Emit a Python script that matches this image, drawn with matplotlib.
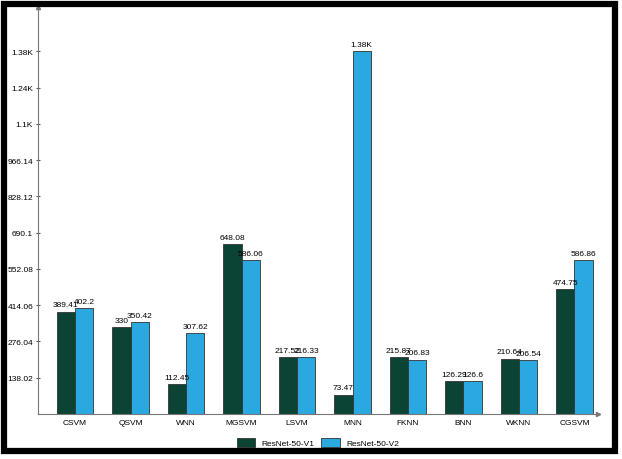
import numpy as np
import matplotlib.pyplot as plt
from matplotlib.patches import Rectangle

models = ["CSVM", "QSVM", "WNN", "MGSVM", "LSVM", "MNN", "FKNN", "BNN", "WKNN", "CGSVM"]
v1 = [389.41, 330, 112.45, 648.08, 217.52, 73.47, 215.87, 126.29, 210.64, 474.75]
v2 = [402.2, 350.42, 307.62, 586.06, 216.33, 1380.2, 206.83, 126.6, 206.54, 586.86]
v1_labels = ["389.41", "330", "112.45", "648.08", "217.52", "73.47", "215.87", "126.29", "210.64", "474.75"]
v2_labels = ["402.2", "350.42", "307.62", "586.06", "216.33", "1.38K", "206.83", "126.6", "206.54", "586.86"]
yticks = [138.02, 276.04, 414.06, 552.08, 690.1, 828.12, 966.14, 1104.16, 1242.18, 1380.2]
ytick_labels = ["138.02", "276.04", "414.06", "552.08", "690.1", "828.12", "966.14", "1.1K", "1.24K", "1.38K"]

plt.rcParams['font.family'] = ['Liberation Sans Narrow', 'Liberation Sans', 'DejaVu Sans']

fig = plt.figure(figsize=(6.22, 4.6), dpi=100, facecolor="white")
# black frame around the whole picture
fig.patches.append(Rectangle((0.007, 0.018), 0.982, 0.972, transform=fig.transFigure,
                             fill=False, edgecolor="black", linewidth=4.5))
ax = fig.add_axes([0.061, 0.098, 0.9, 0.885])

x = np.arange(len(models))
w = 0.33
ax.bar(x - w / 2, v1, w, color="#0b4434", edgecolor="#333333", linewidth=0.6, label="ResNet-50-V1")
ax.bar(x + w / 2, v2, w, color="#2aa9e0", edgecolor="#333333", linewidth=0.6, label="ResNet-50-V2")
for i in range(len(models)):
    ax.text(x[i] - w / 2, v1[i] + 12, v1_labels[i], ha="center", va="bottom", fontsize=6)
    ax.text(x[i] + w / 2, v2[i] + 12, v2_labels[i], ha="center", va="bottom", fontsize=6)

ax.set_xlim(-0.67, 9.42)
ax.set_ylim(0, 1550)
ax.set_xticks(x)
ax.set_xticklabels(models, fontsize=6)
ax.set_yticks(yticks)
ax.set_yticklabels(ytick_labels, fontsize=6)
ax.tick_params(axis="x", length=0, pad=4)
ax.tick_params(axis="y", length=3, direction="inout", color="#555555", pad=2)
for s in ["top", "right"]:
    ax.spines[s].set_visible(False)
ax.spines["left"].set_color("#777777")
ax.spines["bottom"].set_color("#777777")
ax.plot(1, 0, ">", color="#777777", markersize=3, transform=ax.transAxes, clip_on=False)
ax.plot(0, 1, "^", color="#777777", markersize=3, transform=ax.transAxes, clip_on=False)

ax.legend(loc="upper center", bbox_to_anchor=(0.5, -0.04), ncol=2, frameon=False,
          fontsize=6, handlelength=2.2, handleheight=1.3, columnspacing=0.8)

fig.savefig("out.png", dpi=100, facecolor="white")
